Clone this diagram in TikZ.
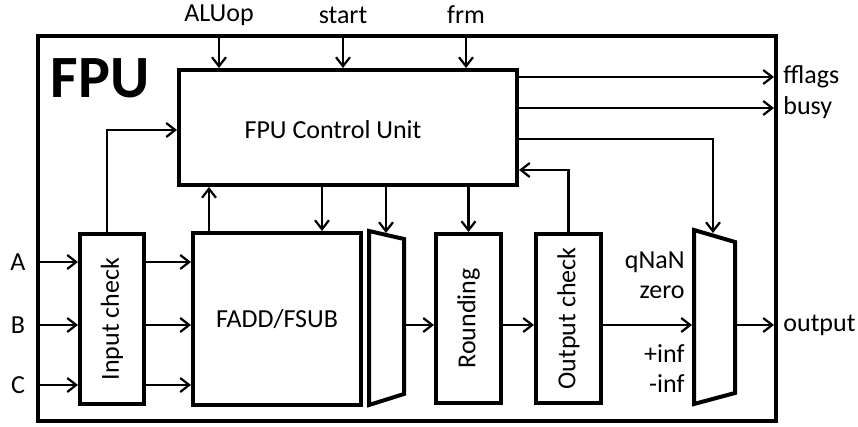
\documentclass[tikz,border=0pt]{standalone}
\usepackage{fontspec}
\setmainfont{Carlito}
\usetikzlibrary{arrows.meta}
\tikzset{
  unit/.style  = {rectangle, draw, line width=2pt, inner sep=0, font=\fontsize{13}{15}\selectfont},
  muxst/.style = {draw, line width=2pt, line join=miter},
  link/.style  = {line width=1.1pt, -{Straight Barb[length=4.5pt,width=7pt]}},
  et/.style    = {inner sep=1.5pt, font=\fontsize{13}{15}\selectfont}
}

\begin{document}
\begin{tikzpicture}[x=0.5pt,y=-0.5pt]
  \useasboundingbox (0,0) rectangle (858,427);
  \node[unit, outer sep=0, minimum width=369pt, minimum height=192.5pt] (fpu) at (407,228.5) {};
  \node[font=\bfseries\fontsize{30}{32}\selectfont] (lbl) at (100,78) {FPU};

  % unita di controllo
  \node[unit, minimum width=169pt, minimum height=57.5pt] (cu) at (348,127.5) {};
  \node[et] (cut) at (333,130) {FPU Control Unit};

  % blocchi
  \node[unit, minimum width=32pt, minimum height=85pt] (ic) at (112,319) {};   \node[et,rotate=90] at (ic) {Input check};
  \node[unit, minimum width=84pt, minimum height=86pt] (fa) at (277,319) {FADD/FSUB};
  \node[unit, minimum width=32.5pt, minimum height=84.5pt] (rd) at (468.5,318.5) {}; \node[et,rotate=90] at (rd) {Rounding};
  \node[unit, minimum width=32.5pt, minimum height=84.5pt] (oc) at (568.5,318.5) {}; \node[et,rotate=90] at (oc) {Output check};

  % mux
  \draw[muxst] (369,231) -- (404,239) -- (404,394) -- (369,405) -- cycle;
  \coordinate (m1top) at (386,233); \coordinate (m1out) at (404,325);
  \draw[muxst] (694,230) -- (735,242) -- (735,393) -- (694,404) -- cycle;
  \coordinate (m2top) at (713,233); \coordinate (m2in) at (692,325); \coordinate (m2out) at (735,325);

  % ingressi dall'alto (3)
  \node[et] (aluop) at (219,15) {ALUop}; \draw[link] (aluop |- fpu.north) -- (aluop |- cu.north);
  \node[et] (start) at (343,15) {start}; \draw[link] (start |- fpu.north) -- (start |- cu.north);
  \node[et] (frm)   at (466,15) {frm};   \draw[link] (frm |- fpu.north) -- (frm |- cu.north);

  % uscite (3)
  \node[et,right] (fflags) at (780,77) {fflags}; \draw[link,shorten >=1pt] (cu.east |- fflags) -- (fpu.east |- fflags);
  \node[et,right] (busy) at (780,108) {busy};    \draw[link,shorten >=1pt] (cu.east |- busy) -- (fpu.east |- busy);
  \node[et,right] (outp) at (780,325) {output};  \draw[link,shorten >=1pt] (m2out) -- (fpu.east |- outp);

  % controllo
  \draw[link] (cu.east |- 0,139) -| (m2top);
  \draw[link] (oc.north) |- (cu.east |- 0,170);
  \draw[link] (ic.north -| 107,0) |- (cu.west |- 0,130);
  \draw[link] (fa.north -| 209,0) -- (cu.south -| 209,0);
  \draw[link] (cu.south -| 322,0) -- (fa.north -| 322,0);
  \draw[link] (cu.south -| m1top) -- (m1top);
  \draw[link] (cu.south -| rd.north) -- (rd.north);

  % ingressi (3)
  \node[et] (a) at (18,262) {A}; \draw[link] (fpu.west |- a) -- (ic.west |- a); \draw[link] (ic.east |- a) -- (fa.west |- a);
  \node[et] (b) at (18,325) {B}; \draw[link] (fpu.west |- b) -- (ic.west |- b); \draw[link] (ic.east |- b) -- (fa.west |- b);
  \node[et] (c) at (18,385) {C}; \draw[link] (fpu.west |- c) -- (ic.west |- c); \draw[link] (ic.east |- c) -- (fa.west |- c);

  % dati
  \draw[link] (m1out) -- (rd.west |- m1out);
  \draw[link] (rd.east |- m1out) -- (oc.west |- m1out);
  \draw[link] (oc.east |- m1out) -- (m2in);

  % costanti (4)
  \node[et,left] (qnan) at (688,262) {qNaN};
  \node[et,left] (zero) at (688,292) {zero};
  \node[et,left] (pinf) at (688,354) {+inf};
  \node[et,left] (minf) at (688,384) {-inf};
\end{tikzpicture}
\end{document}
